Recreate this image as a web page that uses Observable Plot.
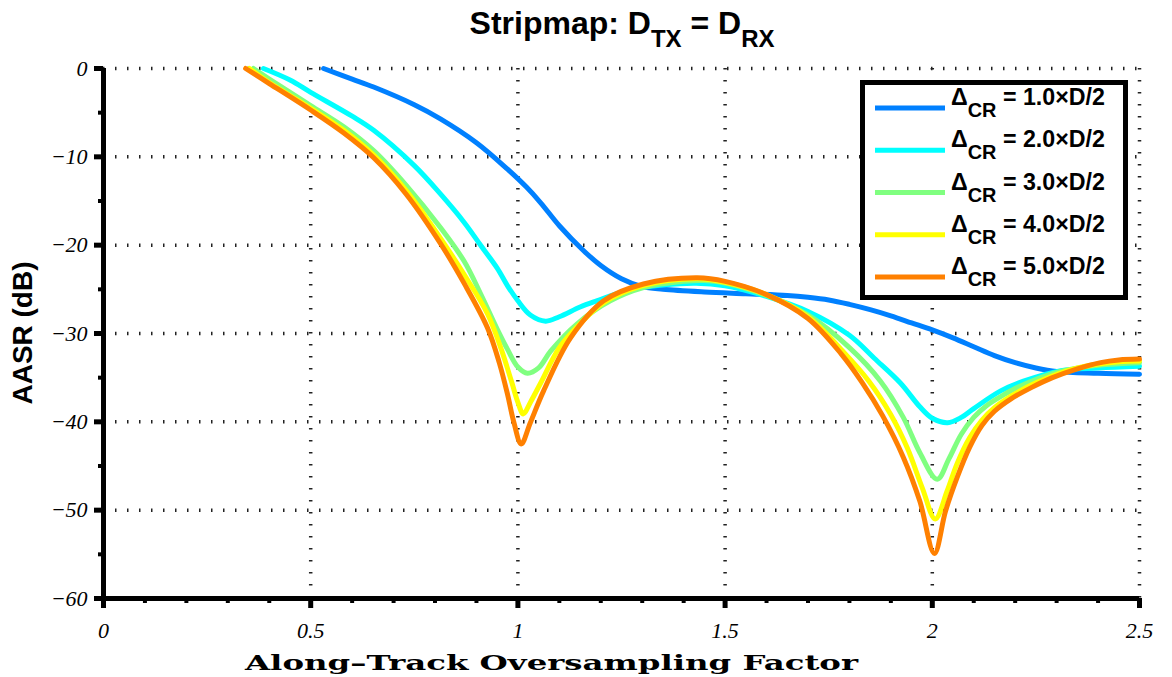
<!DOCTYPE html>
<html>
<head>
<meta charset="utf-8">
<script src="https://cdn.jsdelivr.net/npm/d3@7"></script>
<script src="https://cdn.jsdelivr.net/npm/@observablehq/plot@0.6"></script>
<style>
  html, body { margin: 0; padding: 0; background: #fff; }
  #wrap { position: relative; width: 1172px; height: 677px; overflow: hidden; }
  #wrap svg { position: absolute; left: 0; top: 0; }
</style>
</head>
<body>
<div id="wrap"></div>
<script>
// ---- data ----
const seriesLabels = ["1.0", "2.0", "3.0", "4.0", "5.0"];
const seriesColors = ["#0080ff", "#00ffff", "#80ff80", "#ffff00", "#ff8000"];

const x1 = [0.531,0.6,0.652,0.75,0.813,0.9,0.975,1.02,1.055,1.1,1.158,1.2,1.25,1.3,1.35,1.45,1.55,1.65,1.7,1.75,1.8,1.85,1.9,1.95,2.0,2.05,2.1,2.15,2.2,2.25,2.3,2.4,2.5];
const y1 = [0,-1.2,-2.1,-4.1,-5.7,-8.4,-11.4,-13.4,-15.2,-17.8,-20.6,-22.3,-23.8,-24.7,-25.0,-25.3,-25.5,-25.7,-25.9,-26.2,-26.7,-27.3,-28.0,-28.8,-29.6,-30.5,-31.5,-32.5,-33.3,-33.9,-34.3,-34.5,-34.6];

const x2 = [0.386,0.45,0.5,0.6,0.652,0.75,0.813,0.87,0.91,0.95,0.975,1.0,1.03,1.067,1.1,1.15,1.19,1.272,1.35,1.43,1.5,1.6,1.7,1.8,1.86,1.923,1.97,2.0,2.037,2.07,2.1,2.165,2.22,2.31,2.4,2.5];
const y2 = [0,-1.3,-2.7,-5.4,-7,-11,-14.2,-17.4,-20.0,-22.6,-24.6,-26.3,-27.9,-28.6,-28.1,-27.0,-26.3,-25.0,-24.5,-24.3,-24.6,-25.8,-27.5,-30.2,-32.8,-35.6,-38.3,-39.6,-40.1,-39.5,-38.5,-36.5,-35.4,-34.2,-33.9,-33.7];

const x3 = [0.362,0.42,0.5,0.58,0.652,0.73,0.813,0.87,0.91,0.95,0.975,1.0,1.023,1.05,1.079,1.143,1.223,1.303,1.4,1.45,1.5,1.6,1.7,1.8,1.875,1.93,1.97,2.012,2.04,2.07,2.1,2.13,2.17,2.21,2.3,2.4,2.5];
const y3 = [0,-1.8,-4.2,-6.6,-9.3,-13.2,-18,-21.8,-25.5,-29.5,-31.8,-33.8,-34.5,-33.9,-32,-28.9,-26.3,-24.8,-24.1,-24.0,-24.3,-25.7,-27.9,-31.6,-35.4,-39.5,-43.5,-46.5,-44.2,-41.4,-39.5,-38.2,-37.0,-36.0,-34.4,-33.6,-33.3];

const x4 = [0.352,0.4,0.5,0.58,0.652,0.73,0.813,0.87,0.927,0.96,0.985,1.0,1.013,1.03,1.055,1.1,1.15,1.207,1.3,1.43,1.5,1.6,1.7,1.78,1.847,1.9,1.94,1.976,2.007,2.036,2.06,2.09,2.12,2.15,2.19,2.254,2.35,2.45,2.5];
const y4 = [0,-1.6,-4.5,-7,-9.8,-13.8,-19.2,-23.3,-27.8,-31.8,-35.5,-37.8,-39.1,-37.8,-35.6,-31.6,-28.9,-26.5,-24.6,-23.8,-24.2,-25.6,-28.1,-31.8,-35.4,-39.2,-43,-47.5,-51,-47.8,-44.7,-41.8,-39.8,-38.4,-37.1,-35.5,-33.9,-33.2,-33.1];

const x5 = [0.343,0.4,0.5,0.58,0.652,0.73,0.813,0.87,0.927,0.955,0.975,0.99,1.008,1.03,1.062,1.127,1.207,1.303,1.433,1.5,1.6,1.7,1.78,1.83,1.88,1.93,1.97,2.005,2.032,2.06,2.09,2.12,2.15,2.19,2.24,2.29,2.35,2.406,2.45,2.5];
const y5 = [0,-1.7,-4.7,-7.3,-10.1,-14.2,-19.8,-24.3,-29.4,-33.3,-36.9,-40,-42.5,-40.1,-36.5,-30.5,-26.3,-24.4,-23.7,-24.1,-25.6,-28.3,-32.3,-35.5,-39.3,-44,-49,-54.9,-50.1,-46.3,-42.9,-40.4,-38.8,-37.4,-36.1,-35.0,-34.0,-33.3,-33,-32.9];

const xTicks = [0, 0.5, 1, 1.5, 2, 2.5];
const xMinor = [0.1,0.2,0.3,0.4,0.6,0.7,0.8,0.9,1.1,1.2,1.3,1.4,1.6,1.7,1.8,1.9,2.1,2.2,2.3,2.4];
const yTicks = [0, -10, -20, -30, -40, -50, -60];
const yMinor = [-5, -15, -25, -35, -45, -55];
const xGrid = [0.5, 1, 1.5, 2, 2.5];
const yGrid = [0, -10, -20, -30, -40, -50];

// ---- build table ----
const xs = [x1, x2, x3, x4, x5];
const ys = [y1, y2, y3, y4, y5];
const data = [];
xs.forEach((xa, i) => xa.forEach((x, j) => data.push({x, y: ys[i][j], k: seriesLabels[i]})));

const tickFont = {fontFamily: "Liberation Serif", fontStyle: "italic", fontSize: 22};

const chart = Plot.plot({
  width: 1172,
  height: 677,
  marginTop: 68,
  marginLeft: 103,
  marginRight: 33,
  marginBottom: 79,
  style: {background: "white", color: "black", fontFamily: "Liberation Serif", fontStyle: "italic", fontSize: "22px", overflow: "visible"},
  x: {domain: [0, 2.5]},
  y: {domain: [-60, 0]},
  color: {domain: seriesLabels, range: seriesColors},
  marks: [
    Plot.gridX(xGrid, {stroke: "#222", strokeOpacity: 1, strokeWidth: 3.5, strokeDasharray: "1.5,10.5"}),
    Plot.gridY(yGrid, {stroke: "#222", strokeOpacity: 1, strokeWidth: 3.5, strokeDasharray: "1.5,10.5", strokeDashoffset: -12}),
    Plot.line(data, {x: "x", y: "y", z: "k", stroke: "k", strokeWidth: 5, curve: "catmull-rom"}),
    Plot.axisY(yTicks, {tickSize: 9, strokeWidth: 5, tickPadding: 7, label: null, tickFormat: d => d === 0 ? "0" : "\u2212" + Math.abs(d), ...tickFont}),
    Plot.axisY(yMinor, {tickSize: 5, strokeWidth: 4, label: null, tickFormat: () => ""}),
    Plot.axisX(xTicks, {tickSize: 10, strokeWidth: 5, tickPadding: 14, label: null, tickFormat: d => String(d), ...tickFont}),
    Plot.axisX(xMinor, {tickSize: 5, strokeWidth: 4, label: null, tickFormat: () => ""}),
    Plot.ruleX([0], {strokeWidth: 5, stroke: "black"}),
    Plot.ruleY([-60], {strokeWidth: 5, stroke: "black"})
  ]
});
document.getElementById("wrap").appendChild(chart);

// ---- overlay: title, axis labels, legend ----
const ov = d3.select("#wrap").append("svg")
  .attr("width", 1172).attr("height", 677)
  .style("pointer-events", "none");

// scale font sizes (and dy offsets) of a text element so its width matches target
function fitWidth(sel, target) {
  const node = sel.node();
  const w = node.getBBox().width;
  if (!w) return;
  const s = target / w;
  const scaleAttr = (el, name) => {
    const v = el.getAttribute(name);
    if (v !== null && v !== "") el.setAttribute(name, parseFloat(v) * s);
  };
  scaleAttr(node, "font-size");
  node.querySelectorAll("tspan").forEach(t => { scaleAttr(t, "font-size"); scaleAttr(t, "dy"); });
}

const title = ov.append("text")
  .attr("x", 622).attr("y", 34)
  .attr("text-anchor", "middle")
  .attr("font-family", "Liberation Sans, Arial, sans-serif")
  .attr("font-weight", "bold").attr("font-size", 28).attr("fill", "black");
title.append("tspan").text("Stripmap: D");
title.append("tspan").attr("font-size", 21).attr("dy", 11).text("TX");
title.append("tspan").attr("dy", -11).text(" = D");
title.append("tspan").attr("font-size", 21).attr("dy", 11).text("RX");
fitWidth(title, 305);

ov.append("text")
  .attr("x", 245).attr("y", 670)
  .attr("textLength", 613).attr("lengthAdjust", "spacingAndGlyphs")
  .attr("font-family", "DejaVu Serif, serif")
  .attr("font-weight", "bold").attr("font-size", 21).attr("fill", "black")
  .text("Along\u2013Track Oversampling Factor");

const yl = ov.append("text")
  .attr("transform", "translate(32,333) rotate(-90)")
  .attr("text-anchor", "middle")
  .attr("font-family", "Liberation Sans, Arial, sans-serif")
  .attr("font-weight", "bold").attr("font-size", 26).attr("fill", "black")
  .text("AASR (dB)");
fitWidth(yl, 143);

const lg = ov.append("g");
lg.append("rect")
  .attr("x", 862.5).attr("y", 82.5).attr("width", 263).attr("height", 215)
  .attr("fill", "white").attr("stroke", "black").attr("stroke-width", 5);
seriesLabels.forEach((lab, i) => {
  const cy = 108 + 42.25 * i;
  lg.append("line")
    .attr("x1", 875).attr("x2", 945).attr("y1", cy).attr("y2", cy)
    .attr("stroke", seriesColors[i]).attr("stroke-width", 5);
  const t = lg.append("text")
    .attr("x", 951).attr("y", cy - 3)
    .attr("font-family", "Liberation Sans, Arial, sans-serif")
    .attr("font-weight", "bold").attr("font-size", 21).attr("fill", "black");
  t.append("tspan").text("\u0394");
  t.append("tspan").attr("font-size", 18).attr("dy", 11).text("CR");
  t.append("tspan").attr("dy", -11).text(" = " + lab + "\u00d7D/2");
  fitWidth(t, 154);
});
</script>
</body>
</html>
